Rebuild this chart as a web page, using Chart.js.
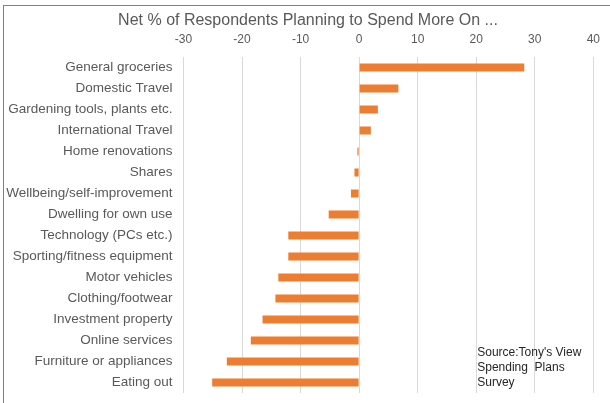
<!DOCTYPE html>
<html>
<head>
<meta charset="utf-8">
<script src="https://cdn.jsdelivr.net/npm/chart.js@4"></script>
<style>
  html, body { margin: 0; padding: 0; background: #fff; }
  #wrap { position: relative; width: 610px; height: 403px; overflow: hidden; }
  #frame { position: absolute; left: 3px; top: 5px; width: 640px; height: 440px; border: 1px solid #7f7f7f; box-sizing: border-box; }
  #grafico { position: absolute; left: 0; top: 0; }
</style>
</head>
<body>
<div id="wrap">
  <div id="frame"></div>
  <canvas id="grafico" width="610" height="403"></canvas>
</div>
<script>
// datos
const categorias = [
  'General groceries',
  'Domestic Travel',
  'Gardening tools, plants etc.',
  'International Travel',
  'Home renovations',
  'Shares',
  'Wellbeing/self-improvement',
  'Dwelling for own use',
  'Technology (PCs etc.)',
  'Sporting/fitness equipment',
  'Motor vehicles',
  'Clothing/footwear',
  'Investment property',
  'Online services',
  'Furniture or appliances',
  'Eating out'
];
const netoPorc = [28.2, 6.7, 3.2, 2.0, -0.3, -0.8, -1.4, -5.2, -12.1, -12.1, -13.8, -14.3, -16.5, -18.5, -22.6, -25.1];
const ticksX = [-30, -20, -10, 0, 10, 20, 30, 40];
const titulo = 'Net % of Respondents Planning to Spend More On ...';
const fuente = ['Source:Tony\'s View', 'Spending  Plans', 'Survey'];

const gris = '#595959';
const familia = '"Liberation Sans", Arial, sans-serif';

// titulo y texto de la fuente
const textosExtra = {
  id: 'textosExtra',
  afterDraw(chart) {
    const ctx = chart.ctx;
    ctx.save();
    // titulo
    ctx.font = '16px ' + familia;
    ctx.fillStyle = gris;
    ctx.textAlign = 'center';
    ctx.textBaseline = 'middle';
    ctx.fillText(titulo, chart.width / 2 + 3, 21);
    // fuente
    const x = chart.scales.x.getPixelForValue(20);
    const yBase = chart.chartArea.bottom;
    ctx.font = '12px ' + familia;
    ctx.fillStyle = '#262626';
    ctx.textAlign = 'left';
    fuente.forEach(function(linea, i){
      ctx.fillText(linea, x + 1, yBase - 40 + i * 15);
    });
    ctx.restore();
  }
};

const grafico = document.getElementById('grafico');

new Chart(grafico, {
  type: 'bar',
  data: {
    labels: categorias,
    datasets: [{
      label: 'Net %',
      data: netoPorc,
      backgroundColor: '#ED7D31',
      borderWidth: 0,
      barPercentage: 0.38,
      categoryPercentage: 1
    }]
  },
  options: {
    indexAxis: 'y',
    responsive: false,
    animation: false,
    layout: {
      padding: { left: 0, right: 14, top: 34, bottom: 10 }
    },
    scales: {
      x: {
        position: 'top',
        min: -30,
        max: 40,
        afterBuildTicks: function(s){
          s.ticks = ticksX.map(v => ({ value: v }));
        },
        afterFit: function(s){ s.height = 23; },
        ticks: {
          color: gris,
          font: { family: familia, size: 12 },
          padding: 10
        },
        grid: { color: '#d9d9d9', drawTicks: false },
        border: { display: false }
      },
      y: {
        afterFit: function(s){
          s.width = 183.5;
          s.paddingTop = 0;
          s.paddingBottom = 0;
        },
        ticks: {
          color: gris,
          font: { family: familia, size: 13.5 },
          padding: 11
        },
        grid: { display: false, drawTicks: false },
        border: { display: false }
      }
    },
    plugins: {
      legend: { display: false },
      tooltip: { enabled: false },
      title: { display: false }
    }
  },
  plugins: [textosExtra]
});
</script>
</body>
</html>
